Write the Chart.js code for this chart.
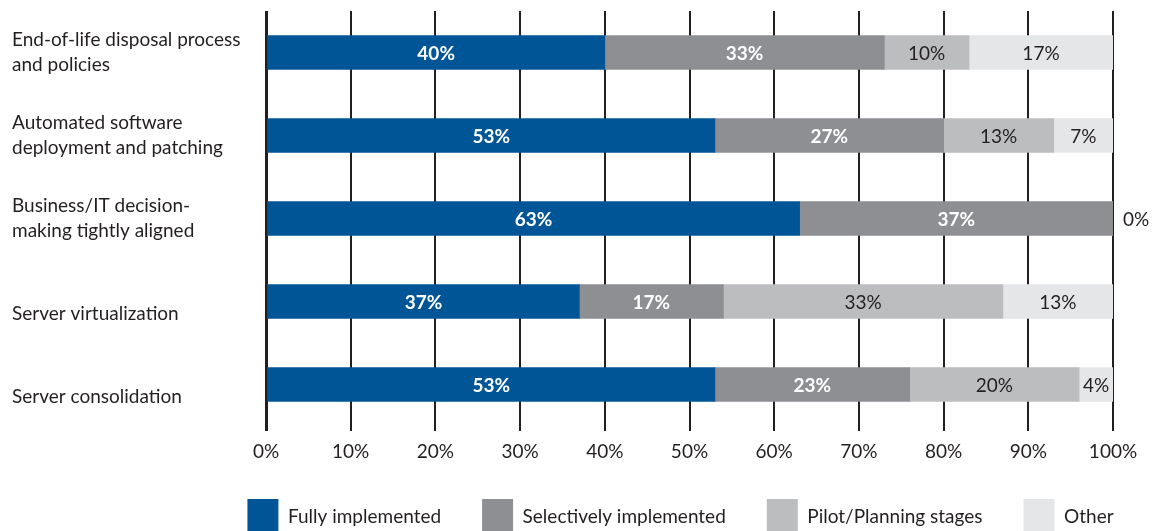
<!DOCTYPE html>
<html>
<head>
<meta charset="utf-8">
<script src="https://cdn.jsdelivr.net/npm/chart.js@4/dist/chart.umd.min.js"></script>
<style>
  html, body { margin: 0; padding: 0; background: #ffffff; }
  #wrap { width: 1163px; height: 531px; position: relative; }
</style>
</head>
<body>
<div id="wrap"><canvas id="c" width="1163" height="531"></canvas></div>
<script>
const categories = [
  ["End-of-life disposal process", "and policies"],
  ["Automated software", "deployment and patching"],
  ["Business/IT decision-", "making tightly aligned"],
  ["", "Server virtualization"],
  ["", "Server consolidation"]
];
const seriesNames = ["Fully implemented", "Selectively implemented", "Pilot/Planning stages", "Other"];
const fullyImplemented = [40, 53, 63, 37, 53];
const selectivelyImplemented = [33, 27, 37, 17, 23];
const pilotPlanning = [10, 13, 0, 33, 20];
const other = [17, 7, 0, 13, 4];
const xTicks = [0, 10, 20, 30, 40, 50, 60, 70, 80, 90, 100];

const colors = ["#005596", "#8e8f93", "#bcbdbf", "#e5e6e7"];
const labelColors = ["#ffffff", "#ffffff", "#231f20", "#231f20"];
const labelWeights = ["bold", "bold", "normal", "normal"];
const FONT = "Lato, 'Open Sans', sans-serif";
const INK = "#231f20";

const valueLabels = {
  id: 'valueLabels',
  afterDatasetsDraw(chart) {
    const ctx = chart.ctx;
    const last = chart.data.datasets.length - 1;
    chart.data.datasets.forEach((ds, i) => {
      const meta = chart.getDatasetMeta(i);
      meta.data.forEach((bar, j) => {
        const v = ds.data[j];
        ctx.save();
        ctx.textBaseline = 'middle';
        if (v === 0) {
          if (i !== last) { ctx.restore(); return; }
          ctx.fillStyle = INK;
          ctx.font = "normal 19px " + FONT;
          ctx.textAlign = 'left';
          ctx.fillText(v + '%', bar.x + 10, bar.y + 1);
        } else {
          ctx.fillStyle = labelColors[i];
          ctx.font = labelWeights[i] + " 19px " + FONT;
          ctx.textAlign = 'center';
          ctx.fillText(v + '%', (bar.x + bar.base) / 2, bar.y + 1);
        }
        ctx.restore();
      });
    });
  }
};

// shift the one-row legend so it sits under the plot like in the original
const legendShift = {
  id: 'legendShift',
  afterLayout(chart) {
    const lg = chart.legend;
    if (!lg) return;
    const w = lg.right - lg.left;
    const center = (chart.chartArea.left + chart.chartArea.right) / 2 - 9;
    lg.left = center - w / 2;
    lg.right = center + w / 2;
  }
};

const seriesData = [fullyImplemented, selectivelyImplemented, pilotPlanning, other];

new Chart(document.getElementById('c'), {
  type: 'bar',
  data: {
    labels: categories,
    datasets: seriesNames.map((name, i) => ({
      label: name,
      data: seriesData[i],
      backgroundColor: colors[i],
      borderWidth: 0,
      barThickness: 34
    }))
  },
  options: {
    indexAxis: 'y',
    responsive: false,
    animation: false,
    devicePixelRatio: 1,
    layout: { padding: { left: 12, right: 50, top: 11, bottom: -13 } },
    scales: {
      x: {
        stacked: true,
        min: 0,
        max: 100,
        afterBuildTicks(scale) { scale.ticks = xTicks.map(v => ({ value: v })); },
        afterFit(scale) { scale.height = 32; },
        border: { display: false },
        grid: {
          color: INK,
          lineWidth: (c) => (c.tick && c.tick.value === 0 ? 3 : 2),
          tickLength: 5,
          drawTicks: true
        },
        ticks: {
          color: INK,
          padding: 9,
          font: { family: FONT, size: 19 },
          callback: (v) => v + '%',
          maxRotation: 0
        }
      },
      y: {
        stacked: true,
        border: { display: false },
        grid: { display: false, drawTicks: false },
        afterFit(scale) {
          scale.width = 254;
          scale.paddingTop = 0;
          scale.paddingBottom = 0;
        },
        ticks: {
          crossAlign: 'far',
          color: INK,
          padding: 0,
          font: { family: FONT, size: 19, lineHeight: 1.3 }
        }
      }
    },
    plugins: {
      legend: {
        position: 'bottom',
        fullSize: true,
        align: 'center',
        labels: {
          boxWidth: 31,
          boxHeight: 35,
          padding: 41,
          color: INK,
          font: { family: FONT, size: 19 }
        }
      },
      tooltip: { enabled: false },
      title: { display: false }
    }
  },
  plugins: [valueLabels, legendShift]
});
</script>
</body>
</html>
